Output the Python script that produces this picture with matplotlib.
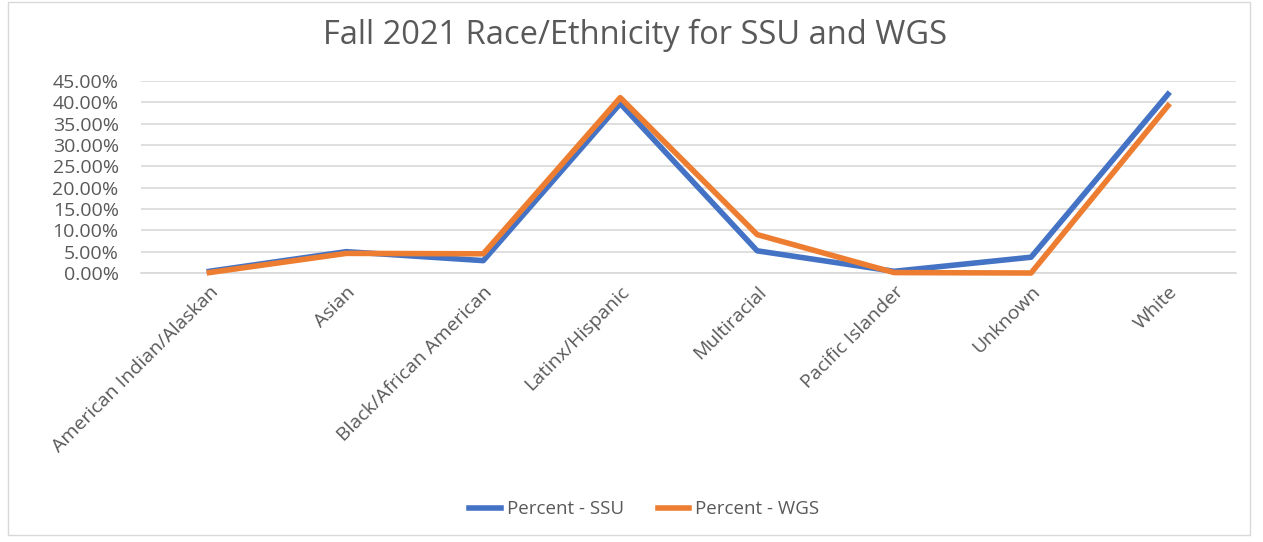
import matplotlib.pyplot as plt
from matplotlib.ticker import PercentFormatter
from matplotlib.patches import Rectangle

categories = ["American Indian/Alaskan", "Asian", "Black/African American", "Latinx/Hispanic",
              "Multiracial", "Pacific Islander", "Unknown", "White"]
ssu = [0.004, 0.050, 0.029, 0.397, 0.052, 0.004, 0.037, 0.419]
wgs = [0.001, 0.046, 0.045, 0.411, 0.090, 0.001, 0.000, 0.392]
yticks = [i * 0.05 for i in range(10)]

plt.rcParams["font.family"] = ["Open Sans", "DejaVu Sans"]
text_gray = "#595959"

fig = plt.figure(figsize=(12.63, 5.42), dpi=100)
fig.patches.append(Rectangle((0.006, 0.012), 0.984, 0.985, transform=fig.transFigure,
                             fill=False, edgecolor="#D9D9D9", linewidth=1))
ax = fig.add_axes([0.1116, 0.4963, 0.8674, 0.3543])

x = range(len(categories))
ax.plot(x, ssu, color="#4472C4", linewidth=4, label="Percent - SSU", clip_on=False)
ax.plot(x, wgs, color="#ED7D31", linewidth=4, label="Percent - WGS", clip_on=False)

ax.set_xlim(-0.5, len(categories) - 0.5)
ax.set_ylim(0, 0.45)
ax.set_yticks(yticks)
ax.yaxis.set_major_formatter(PercentFormatter(1.0, decimals=2))
ax.set_xticks(list(x))
ax.set_xticklabels(categories, rotation=45, ha="right", va="top", rotation_mode="anchor")
ax.tick_params(axis="both", length=0, labelsize=14, colors=text_gray)
ax.tick_params(axis="x", pad=7)
ax.tick_params(axis="y", pad=16)
ax.grid(axis="y", color="#D9D9D9", linewidth=1.2)
ax.set_axisbelow(True)
for s in ax.spines.values():
    s.set_visible(False)
ax.axhline(0, color="#D9D9D9", linewidth=1.2, zorder=0.5, clip_on=False)

fig.suptitle("Fall 2021 Race/Ethnicity for SSU and WGS", x=0.503, y=0.935, va="center",
             fontsize=23.5, color=text_gray)
fig.legend(loc="center", bbox_to_anchor=(0.51, 0.06), ncol=2, frameon=False, fontsize=13.5,
           labelcolor=text_gray, handlelength=1.7, handletextpad=0.3, columnspacing=1.8)

plt.savefig("out.png", dpi=100)
